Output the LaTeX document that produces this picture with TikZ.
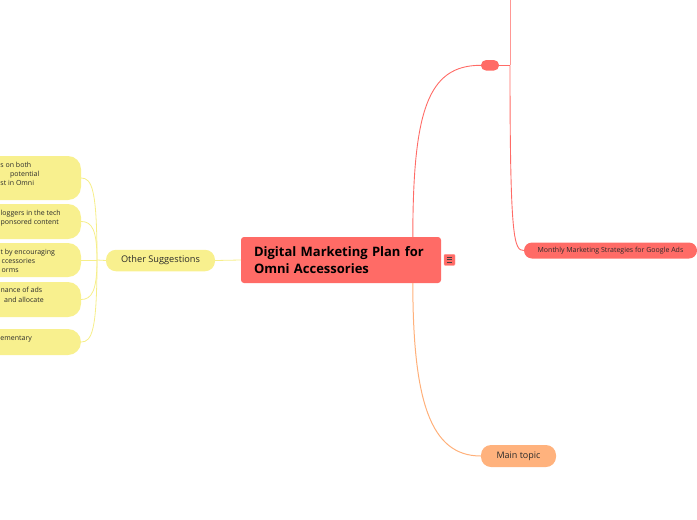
\documentclass[tikz,border=0pt]{standalone}
\usepackage{fontspec}
\setmainfont{Open Sans}
\usetikzlibrary{calc}
\definecolor{redc}{HTML}{FF6B66}
\definecolor{redline}{HTML}{FF6B66}
\definecolor{yelc}{HTML}{F8F08E}
\definecolor{yelline}{HTML}{F6EE8A}
\definecolor{orac}{HTML}{FFB27D}
\definecolor{oraline}{HTML}{FFB07A}
\definecolor{txt}{HTML}{2B2B2B}
\begin{document}
\begin{tikzpicture}[x=1pt,y=-1pt,
  redbox/.style={fill=redc, draw=none, inner sep=0pt},
  yelbox/.style={fill=yelc, draw=none, inner sep=0pt},
  childbox/.style={yelbox, rounded corners=13pt, minimum width=141},
  ctext/.style={anchor=mid west, inner sep=0pt, font=\fontsize{7}{9}\selectfont, text=txt},
  rline/.style={draw=redline, line width=0.9pt},
  yline/.style={draw=yelline, line width=0.8pt},
  oline/.style={draw=oraline, line width=1pt}
]
\useasboundingbox (0,0) rectangle (697,520);
\clip (0,0) rectangle (697,520);

% central node
\node[redbox, rounded corners=3pt, minimum width=200, minimum height=46, text width=174, align=left, inner xsep=13pt,
  font=\fontsize{13}{16.7}\selectfont\bfseries, text=black] (central) at (341,260)
  {Digital Marketing Plan for\\Omni Accessories};
\node[fill=redc, draw=redc!70!white, line width=0.4pt, rounded corners=1pt, minimum width=11, minimum height=11, inner sep=0pt] (icon) at (449.5,259.8) {};
\draw[black!75, line width=0.7pt] ($(icon.center)+(-2.6,-2.2)$) -- ++(5.2,0)
  ($(icon.center)+(-2.6,0)$) -- ++(5.2,0)
  ($(icon.center)+(-2.6,2.2)$) -- ++(5.2,0);

% red branch
\node[redbox, rounded corners=5pt, minimum width=18, minimum height=10.5] (pill) at (490,65.3) {};
\coordinate (ctop) at ($(central.north west)+(172,0)$);
\draw[rline] (ctop) .. controls (413,110) and (428,65.3) .. (pill.west);
\coordinate (junc) at (510,65.3);
\coordinate (topend) at (510,-2);
\draw[rline] (pill.east) -- (junc);
\draw[rline, draw=redline!70!white] (junc) -- (topend);
\node[redbox, rounded corners=8pt, minimum width=173, minimum height=16, font=\fontsize{7}{8}\selectfont, text=txt] (monthly) at (610.5,250.5) {Monthly Marketing Strategies for Google Ads};
\draw[rline] (junc) .. controls (510,240) and (514,250.5) .. (monthly.west);

% orange branch
\node[fill=orac, rounded corners=10pt, minimum width=75, minimum height=22, inner sep=0pt, font=\fontsize{9}{10}\selectfont, text=txt] (main) at (518.5,456) {Main topic};
\coordinate (cbot) at ($(central.south west)+(172,0)$);
\draw[oline] (cbot) .. controls (413,400) and (430,456) .. (main.west);

% yellow branch
\node[yelbox, rounded corners=10pt, minimum width=109, minimum height=21.5, font=\fontsize{9.2}{10}\selectfont, text=txt] (os) at (160.5,260.5) {Other Suggestions};
\draw[yline] (central.west) -- (os.east);

\node[childbox, minimum height=44] (c1) at (10.5,178) {};
\node[childbox, minimum height=35] (c2) at (10.5,221.5) {};
\node[childbox, minimum height=34] (c3) at (10.5,260) {};
\node[childbox, minimum height=35] (c4) at (10.5,299.5) {};
\node[childbox, minimum height=26] (c5) at (10.5,342) {};

\coordinate (osj) at (97,260);
\draw[yline] (os.west) -- (osj);
\draw[yline] (osj) .. controls (97,190) and (92,178) .. (c1.east);
\draw[yline] (osj) .. controls (97,230) and (92,221.5) .. (c2.east);
\draw[yline] (osj) -- (c3.east);
\draw[yline] (osj) .. controls (97,290) and (92,299.5) .. (c4.east);
\draw[yline] (osj) .. controls (97,330) and (92,342) .. (c5.east);

% child texts (visible parts only)
\node[ctext] (t1a) at (0.3,164.7) {s on both};
\node[ctext] (t1b) at (10,174) {potential};
\node[ctext] (t1c) at (0.3,183.3) {st in Omni};
\node[ctext] (t2a) at (0.5,212.5) {loggers in the tech};
\node[ctext] (t2b) at (0.5,222) {ponsored content};
\node[ctext] (t3a) at (0.5,251.7) {t by encouraging};
\node[ctext] (t3b) at (1.5,261) {ccessories};
\node[ctext] (t3c) at (1.5,270.3) {orms};
\node[ctext] (t4a) at (0.5,289.7) {nance of ads};
\node[ctext] (t4b) at (4,299.7) {and allocate};
\node[ctext] (t5a) at (0.3,338) {ementary};
\end{tikzpicture}
\end{document}
